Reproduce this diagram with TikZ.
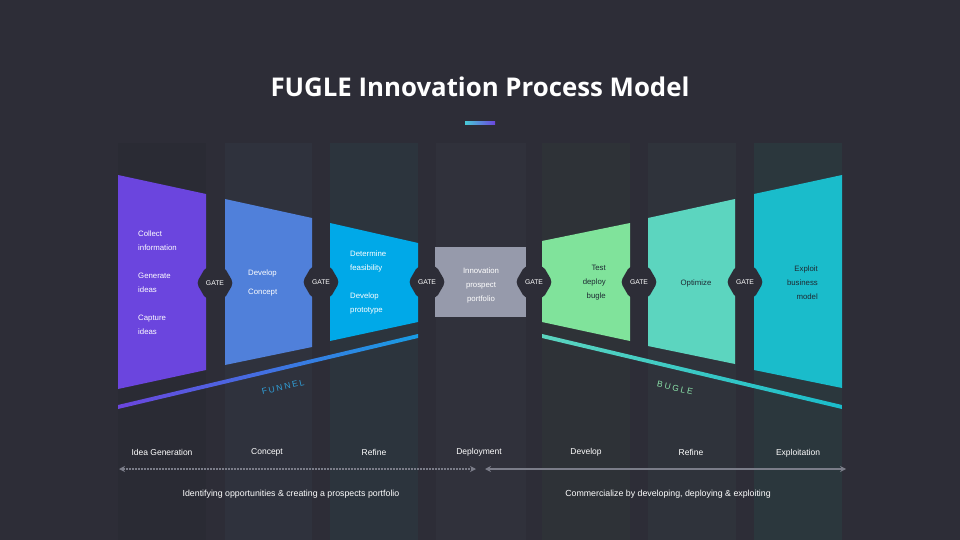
\documentclass[tikz,border=0pt]{standalone}
\usepackage{fontspec}
\setmainfont{Liberation Sans}
\newfontfamily\titlefont{Open Sans}
\usetikzlibrary{shapes.geometric,arrows.meta}
\definecolor{bgc}{HTML}{2D2D37}
\definecolor{colA}{HTML}{2A2B34}
\definecolor{colB}{HTML}{2F323D}
\definecolor{colC}{HTML}{2C343D}
\definecolor{colD}{HTML}{30313B}
\definecolor{colE}{HTML}{2E3237}
\definecolor{colF}{HTML}{2F333B}
\definecolor{colG}{HTML}{2B373D}
\definecolor{sPurple}{HTML}{6B45DE}
\definecolor{sBlue}{HTML}{5080DA}
\definecolor{sCyan}{HTML}{00A9E8}
\definecolor{sGrey}{HTML}{969AAB}
\definecolor{sGreen}{HTML}{80E39B}
\definecolor{sMint}{HTML}{5CD5BF}
\definecolor{sTeal}{HTML}{1ABCCB}
\definecolor{darktxt}{HTML}{1E2A33}
\definecolor{arrowc}{HTML}{7B7D89}
\definecolor{funnelc}{HTML}{2F9FD8}
\definecolor{buglec}{HTML}{8AE0A8}
\begin{document}
\begin{tikzpicture}[x=1pt,y=-1pt,
  lbl/.style={text=white, inner sep=0, font=\fontsize{7.8}{14}\selectfont},
  dlbl/.style={lbl, text=darktxt},
  blbl/.style={text=white, inner sep=0, font=\fontsize{8.5}{10}\selectfont},
  gate/.style={regular polygon, regular polygon sides=6, minimum size=37pt, inner sep=0pt,
    fill=bgc, rounded corners=4pt, text=white, font=\fontsize{6.8}{7}\selectfont},
  harrow/.style={arrowc, line width=1.6pt, {Stealth[length=6pt,width=6pt]}-{Stealth[length=6pt,width=6pt]}},
]
% background
\fill[bgc] (0,0) rectangle (960,540);
\useasboundingbox (0,0) rectangle (960,540);
% columns
\fill[colA] (118,143) rectangle (206,540);
\fill[colB] (225,143) rectangle (312,540);
\fill[colC] (330,143) rectangle (418,540);
\fill[colD] (436,143) rectangle (526,540);
\fill[colE] (542,143) rectangle (630,540);
\fill[colF] (648,143) rectangle (736,540);
\fill[colG] (754,143) rectangle (842,540);

% title
\node[text=white, font=\titlefont\bfseries\fontsize{25.8}{30}\selectfont] (title) at (480,87) {FUGLE Innovation Process Model};
\shade[left color=sTeal!80!white, right color=sPurple] (465,122) rectangle (495,125);

% stage shapes
\fill[sPurple] (118,175) -- (206,194) -- (206,370) -- (118,389) -- cycle;
\fill[sBlue] (225,199) -- (312,218) -- (312,347) -- (225,365) -- cycle;
\fill[sCyan] (330,223) -- (418,243) -- (418,322) -- (330,341) -- cycle;
\fill[sGrey] (435,247) rectangle (526,317);
\fill[sGreen] (542,241) -- (630,223) -- (630,341) -- (542,322) -- cycle;
\fill[sMint] (648,218) -- (735,199) -- (735,364) -- (648,346) -- cycle;
\fill[sTeal] (754,194) -- (842,175) -- (842,388) -- (754,370) -- cycle;

% gates
\node[gate] (g1) at (215,283) {GATE};
\node[gate] (g2) at (321,282) {GATE};
\node[gate] (g3) at (427,282) {GATE};
\node[gate] (g4) at (534,282) {GATE};
\node[gate] (g5) at (639,282) {GATE};
\node[gate] (g6) at (745,282) {GATE};

% stage texts
\node[lbl, anchor=west, align=left] (t1a) at (138,241) {Collect\\information};
\node[lbl, anchor=west, align=left] (t1b) at (138,283) {Generate\\ideas};
\node[lbl, anchor=west, align=left] (t1c) at (138,325) {Capture\\ideas};
\node[lbl, anchor=west] (t2a) at (248,273) {Develop};
\node[lbl, anchor=west] (t2b) at (248,293) {Concept};
\node[lbl, anchor=west, align=left] (t3a) at (350,261) {Determine\\feasibility};
\node[lbl, anchor=west, align=left] (t3b) at (350,303) {Develop\\prototype};
\node[lbl, align=center] (t4) at (481,285) {Innovation\\prospect\\portfolio};
\node[dlbl, anchor=east, align=right] (t5) at (606,283) {Test\\deploy\\bugle};
\node[dlbl] (t6) at (696,283) {Optimize};
\node[dlbl, anchor=east, align=right] (t7) at (818,283) {Exploit\\business\\model};

% funnel / bugle lines
\shade[left color=sPurple, right color=sCyan!70!sBlue] (118,405) -- (418,334) -- (418,338) -- (118,409) -- cycle;
\shade[left color=sMint, right color=sTeal] (542,334) -- (842,405) -- (842,409) -- (542,338) -- cycle;
\node[text=funnelc, rotate=13, font=\fontsize{8.5}{9}\selectfont\addfontfeatures{LetterSpace=22}] (funnel) at (283,387) {FUNNEL};
\node[text=buglec, rotate=-13, font=\fontsize{8.5}{9}\selectfont\addfontfeatures{LetterSpace=22}] (bugle) at (675,388) {BUGLE};

% bottom labels
\node[blbl] (b1) at (162,452) {Idea Generation};
\node[blbl] (b2) at (267,452) {Concept};
\node[blbl] (b3) at (374,452) {Refine};
\node[blbl] (b4) at (479,452) {Deployment};
\node[blbl] (b5) at (586,452) {Develop};
\node[blbl] (b6) at (691,452) {Refine};
\node[blbl] (b7) at (798,453) {Exploitation};

% arrows
\coordinate (a1s) at (119,469);
\coordinate (a1e) at (476,469);
\coordinate (a2s) at (485,469);
\coordinate (a2e) at (846,469);
\draw[harrow, line width=1.4pt, dash pattern=on 2pt off 1pt] (a1s) -- (a1e);
\draw[harrow] (a2s) -- (a2e);

% captions
\node[blbl, font=\fontsize{8.8}{10}\selectfont] (c1) at (291,494) {Identifying opportunities \& creating a prospects portfolio};
\node[blbl, font=\fontsize{8.8}{10}\selectfont] (c2) at (668,494) {Commercialize by developing, deploying \& exploiting};
\end{tikzpicture}
\end{document}
